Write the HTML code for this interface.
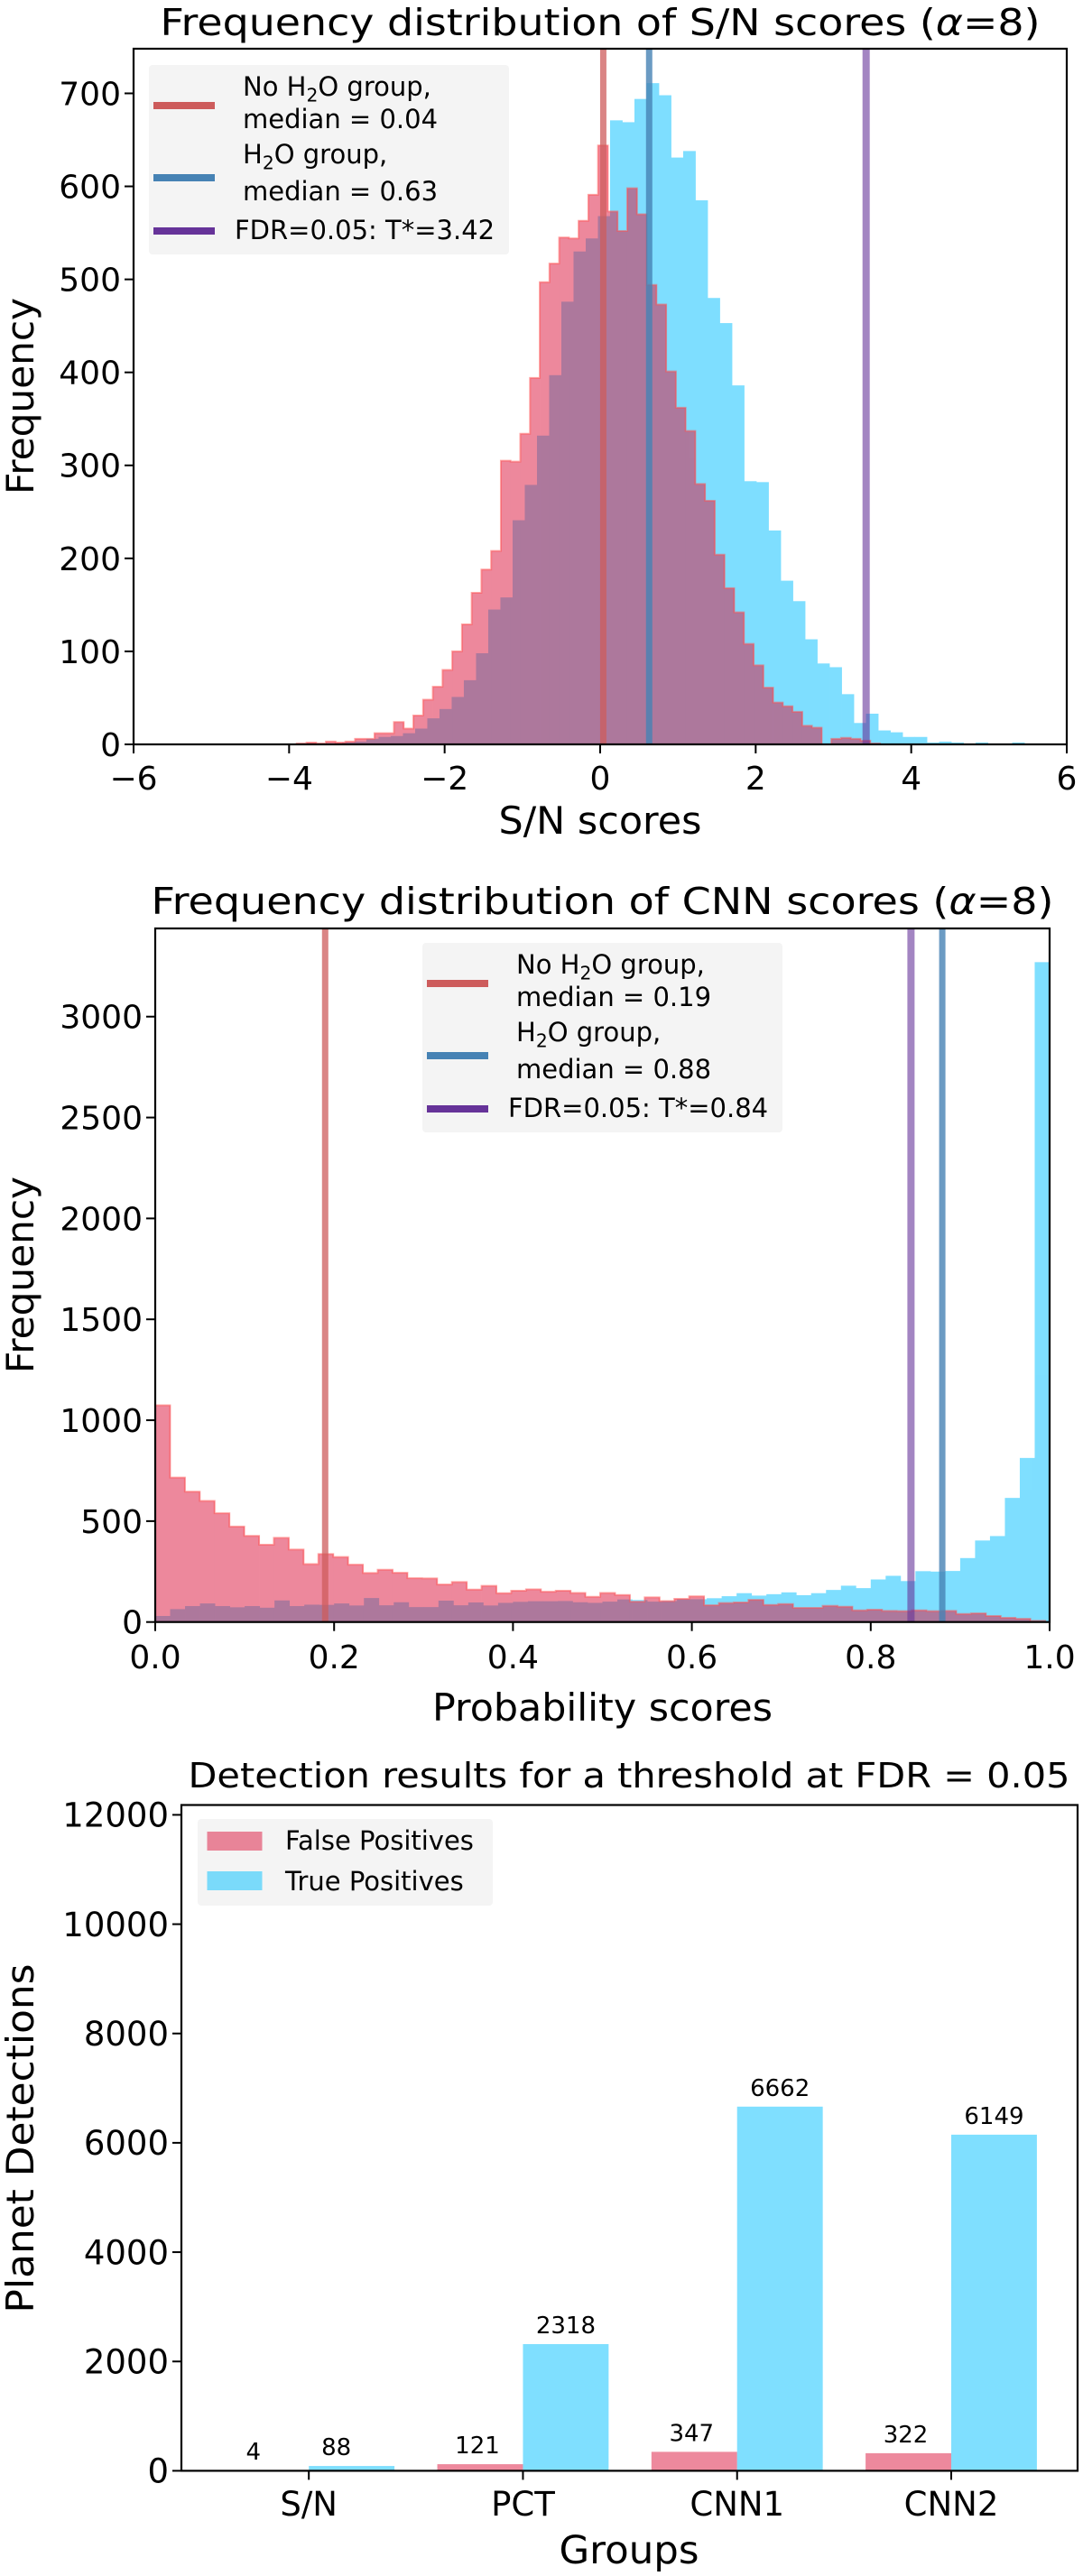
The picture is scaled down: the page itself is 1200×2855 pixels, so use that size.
<!DOCTYPE html>
<html><head><meta charset="utf-8"><style>
html,body{margin:0;padding:0;background:#fff;}
svg{display:block;font-family:"DejaVu Sans","Liberation Sans",sans-serif;}
</style></head><body>
<svg id="fig" width="1200" height="2855" viewBox="0 0 1200 2855" xmlns="http://www.w3.org/2000/svg">
<rect x="0" y="0" width="1200" height="2855" fill="#fff"/>
<g id="c1"></g>
<g id="c2"></g>
<g id="c3"></g>
</svg>
<script>
// ---------- Chart 1 data (S/N scores) ----------
const snRedStart = -3.902;
const snRedWidth = 0.125;
const snRedCounts = [1,2,1,3,2, 3,6,6,12,12, 24,17,31,48,62, 80,100,129,163,188, 208,305,304,334,394, 497,517,545,544,563, 591,644,573,552,598, 570,494,473,401,362, 337,280,262,204,168, 142,108,85,61,45, 41,35,20,18,0, 6,7,6,4,1];
const snBlueStart = -3.79;
const snBlueWidth = 0.1567;
const snBlueCounts = [1,1,1, 2,3,6,8,9, 12,17,28,38,51, 69,98,145,158,241, 279,332,397,476,530, 544,568, 671,669,694,711,698, 631,638,585,480,453, 386,283,282,230,176, 154,113,87,83,54, 23,33,15,13,8, 8,2,3, 2,1,2,1,1,2,1,1];
const snXTicks = [-6,-4,-2,0,2,4,6];
const snYTicks = [0,100,200,300,400,500,600,700];
const snMedianNo = 0.04, snMedianH2O = 0.63, snThreshold = 3.42;

// ---------- Chart 2 data (CNN scores) ----------
const cnnRedStart = 0, cnnRedWidth = 0.995/60;
const cnnRedCounts = [1074,716,646,600,539,473,427,383,417,359, 287,337,322,284,243,259,244,217,216,186, 198,161,179,143,155,162,150,155,144,125, 144,134,101,122,104,115,127,83,94,97, 110,85,89,70,70,80,76,58,61,55, 54,58,54,55,40,43,30,21,16,6];
const cnnBlueStart = 0, cnnBlueWidth = 1/60;
const cnnBlueCounts = [30,64,79,92,79,73,79,71,107,79, 86,85,92,82,119,83,98,74,74,106, 83,97,82,95,100,103,103,104,98,95, 101,112,109,101,104,113,113,118,128,143, 131,138,147,133,143,159,180,168,211,229, 203,252,250,253,317,404,426,615,813,3270];
const cnnXTicks = [0,0.2,0.4,0.6,0.8,1.0];
const cnnXTickLabels = ["0.0","0.2","0.4","0.6","0.8","1.0"];
const cnnYTicks = [0,500,1000,1500,2000,2500,3000];
const cnnMedianNo = 0.19, cnnMedianH2O = 0.88, cnnThreshold = 0.845;

// ---------- Chart 3 data (detections) ----------
const groups = ["S/N","PCT","CNN1","CNN2"];
const falsePositives = [4,121,347,322];
const truePositives = [88,2318,6662,6149];
const detYTicks = [0,2000,4000,6000,8000,10000,12000];

const NS = "http://www.w3.org/2000/svg";
function mk(parent, tag, attrs){
  const e = document.createElementNS(NS, tag);
  for (const k in attrs) e.setAttribute(k, attrs[k]);
  parent.appendChild(e);
  return e;
}
function lin(d0,d1,r0,r1){ return v => r0 + (v-d0)/(d1-d0)*(r1-r0); }

function frame(g, L,T,R,B){
  const f = mk(g,'rect',{x:L,y:T,width:R-L,height:B-T,fill:'none',stroke:'#000','stroke-width':2.2});
  
  
}
function yAxis(g, ys, ticks, labels, L, fs){
  ticks.forEach((t,i)=>{
    const y = ys(t);
    const tk = mk(g,'line',{x1:L-10,x2:L,y1:y,y2:y,stroke:'#000','stroke-width':2});
    
    
    const tx = mk(g,'text',{x:L-14,y:y+0.36*fs,'font-size':fs,'text-anchor':'end',fill:'#000'});
    
    
    tx.textContent = labels[i];
  });
}
function xAxis(g, xs, ticks, labels, B, fs, labelY){
  ticks.forEach((t,i)=>{
    const x = xs(t);
    const tk = mk(g,'line',{x1:x,x2:x,y1:B,y2:B+10,stroke:'#000','stroke-width':2});
    
    
    const tx = mk(g,'text',{x:x,y:labelY,'font-size':fs,'text-anchor':'middle',fill:'#000'});
    
    
    tx.textContent = labels[i];
  });
}
function text(g, name, str, x, y, fs, opts){
  const a = {x:x,y:y,'font-size':fs,'text-anchor':'middle',fill:'#000'};
  Object.assign(a, opts||{});
  const t = mk(g,'text',a);
  
  
  t.textContent = str;
  return t;
}
function hist(g, name, start, width, counts, xs, ys, fill, outline){
  const y0 = ys(0);
  const layer = mk(g,'g',{opacity:0.5});
  
  
  let d = '';
  counts.forEach((c,i)=>{
    const x1 = xs(start+i*width), x2 = xs(start+(i+1)*width), y = ys(c);
    const r = mk(layer,'rect',{x:x1,y:y,width:Math.max(0,x2-x1+0.4),height:y0-y,fill:fill});
    
    
    d += (i===0?('M'+x1+' '+y0+' L'+x1+' '+y):(' L'+x1+' '+y)) + ' L'+x2+' '+y;
    if (i===counts.length-1) d += ' L'+x2+' '+y0;
  });
  if (outline){
    const p = mk(g,'path',{d:d,fill:'none',stroke:outline,'stroke-width':2});
    
    
  }
}
function vline(g, name, x, T, B, color, op, w){
  const l = mk(g,'line',{x1:x,x2:x,y1:T,y2:B,stroke:color,'stroke-opacity':op,'stroke-width':w});
  
  
}
function h2oText(g, name, pre, post, x, y, fs){
  const t = mk(g,'text',{x:x,y:y,'font-size':fs,fill:'#000'});
  
  
  const s1 = mk(t,'tspan',{}); s1.textContent = pre+'H';
  const s2 = mk(t,'tspan',{'font-size':fs*0.7,dy:fs*0.22}); s2.textContent = '2';
  const s3 = mk(t,'tspan',{dy:-fs*0.22}); s3.textContent = 'O'+post;
}
function lineLegend(g, bx, by, labels){
  const box = mk(g,'rect',{x:bx,y:by,width:399,height:210,rx:4,fill:'#f3f3f3','fill-opacity':0.95});
  
  
  const hs = [{c:'#cd5c5c',y:45},{c:'#4682b4',y:125},{c:'#663399',y:184}];
  hs.forEach(h=>{
    const l = mk(g,'line',{x1:bx+5,x2:bx+73,y1:by+h.y,y2:by+h.y,stroke:h.c,'stroke-width':8});
    
    
  });
  h2oText(g,'legend-entry-no-h2o','No ',' group,',bx+104,by+34,29);
  text(g,'legend-entry-no-h2o-median',labels[0],bx+104,by+70,29,{'text-anchor':'start'});
  h2oText(g,'legend-entry-h2o','',' group,',bx+104,by+109,29);
  text(g,'legend-entry-h2o-median',labels[1],bx+104,by+150,29,{'text-anchor':'start'});
  text(g,'legend-entry-threshold',labels[2],bx+95,by+193,29,{'text-anchor':'start'});
}
function titleAlpha(g, name, pre, x, y, fs, len){
  const t = mk(g,'text',{x:x,y:y,'font-size':fs,'text-anchor':'middle',fill:'#000',textLength:len,lengthAdjust:'spacingAndGlyphs'});
  
  
  const a = mk(t,'tspan',{}); a.textContent = pre+'(';
  const b = mk(t,'tspan',{'font-style':'italic'}); b.textContent = '\u03B1';
  const c = mk(t,'tspan',{}); c.textContent = '=8)';
}

// ================= Chart 1 =================
(function(){
  const g = document.getElementById('c1');
  const L=148,R=1182,T=54,B=825;
  const xs = lin(-6,6,L,R), ys = lin(0,748,B,T);
  hist(g,'h2o-hist',snBlueStart,snBlueWidth,snBlueCounts,xs,ys,'rgb(0,191,255)',null);
  hist(g,'no-h2o-hist',snRedStart,snRedWidth,snRedCounts,xs,ys,'rgb(220,20,60)','rgba(255,80,80,0.5)');
  vline(g,'no-h2o-median-line',xs(snMedianNo),T,B,'#cd5c5c',0.75,7);
  vline(g,'h2o-median-line',xs(snMedianH2O),T,B,'#4682b4',0.8,7);
  vline(g,'threshold-line',xs(snThreshold),T,B,'#663399',0.6,8);
  frame(g,L,T,R,B);
  yAxis(g,ys,snYTicks,snYTicks.map(String),L,36);
  xAxis(g,xs,snXTicks,snXTicks.map(v=>v<0?'\u2212'+(-v):String(v)),B,36,875);
  titleAlpha(g,'chart-title','Frequency distribution of S/N scores ',665,39,41,975);
  text(g,'x-axis-title','S/N scores',665,924,42,{textLength:225,lengthAdjust:'spacingAndGlyphs'});
  text(g,'y-axis-title','Frequency',0,0,42,{transform:'translate(37,439) rotate(-90)',textLength:218,lengthAdjust:'spacingAndGlyphs'});
  lineLegend(g,165,72,['median = 0.04','median = 0.63','FDR=0.05: T*=3.42']);
})();

// ================= Chart 2 =================
(function(){
  const g = document.getElementById('c2');
  const L=172,R=1163,T=1029,B=1797.7;
  const xs = lin(0,1,L,R), ys = lin(0,3437,B,T);
  hist(g,'h2o-hist',cnnBlueStart,cnnBlueWidth,cnnBlueCounts,xs,ys,'rgb(0,191,255)',null);
  hist(g,'no-h2o-hist',cnnRedStart,cnnRedWidth,cnnRedCounts,xs,ys,'rgb(220,20,60)','rgba(255,80,80,0.5)');
  vline(g,'no-h2o-median-line',xs(cnnMedianNo),T,B,'#cd5c5c',0.75,7);
  vline(g,'h2o-median-line',xs(cnnMedianH2O),T,B,'#4682b4',0.8,7);
  vline(g,'threshold-line',xs(cnnThreshold),T,B,'#663399',0.6,8);
  frame(g,L,T,R,B);
  yAxis(g,ys,cnnYTicks,cnnYTicks.map(String),L,36);
  xAxis(g,xs,cnnXTicks,cnnXTickLabels,B,36,1849);
  titleAlpha(g,'chart-title','Frequency distribution of CNN scores ',667.5,1013,41,1000);
  text(g,'x-axis-title','Probability scores',667.5,1907,42,{textLength:377,lengthAdjust:'spacingAndGlyphs'});
  text(g,'y-axis-title','Frequency',0,0,42,{transform:'translate(37,1413) rotate(-90)',textLength:218,lengthAdjust:'spacingAndGlyphs'});
  lineLegend(g,468,1045,['median = 0.19','median = 0.88','FDR=0.05: T*=0.84']);
})();

// ================= Chart 3 =================
(function(){
  const g = document.getElementById('c3');
  const L=201,R=1194,T=2000.5,B=2738.4;
  const xs = lin(-0.595,3.59,L,R), ys = lin(0,12180,B,T);
  const bw = 0.4;
  groups.forEach((name,i)=>{
    const fx1 = xs(i-bw), fx2 = xs(i), fy = ys(falsePositives[i]);
    const fr = mk(g,'rect',{x:fx1,y:fy,width:fx2-fx1,height:B-fy,fill:'rgba(220,20,60,0.5)'});
    
    
    const tx1 = xs(i), tx2 = xs(i+bw), ty = ys(truePositives[i]);
    const tr = mk(g,'rect',{x:tx1,y:ty,width:tx2-tx1,height:B-ty,fill:'rgba(0,191,255,0.5)'});
    
    
    text(g,'false-positive-value',String(falsePositives[i]),(fx1+fx2)/2-(i===0?14:3),fy-12,26);
    text(g,'true-positive-value',String(truePositives[i]),(tx1+tx2)/2-(i===0?17:0),ty-12,26);
  });
  frame(g,L,T,R,B);
  yAxis(g,ys,detYTicks,detYTicks.map(String),L,37);
  xAxis(g,xs,[0,1,2,3],groups,B,37,2788);
  text(g,'chart-title','Detection results for a threshold at FDR = 0.05',697,1981,38,{textLength:977,lengthAdjust:'spacingAndGlyphs'});
  text(g,'x-axis-title','Groups',697,2841,43,{textLength:155,lengthAdjust:'spacingAndGlyphs'});
  text(g,'y-axis-title','Planet Detections',0,0,42,{transform:'translate(37,2370) rotate(-90)',textLength:387,lengthAdjust:'spacingAndGlyphs'});
  const lb = mk(g,'rect',{x:219,y:2016,width:327,height:96,rx:4,fill:'#f3f3f3','fill-opacity':0.95});
  
  
  const p1 = mk(g,'rect',{x:229.5,y:2030,width:61,height:21,fill:'rgba(220,20,60,0.5)'});
  
  
  const p2 = mk(g,'rect',{x:229.5,y:2074,width:61,height:21,fill:'rgba(0,191,255,0.5)'});
  
  
  text(g,'legend-entry-false-positives','False Positives',316,2050,29,{'text-anchor':'start'});
  text(g,'legend-entry-true-positives','True Positives',316,2095,29,{'text-anchor':'start'});
})();
</script>
</body></html>
